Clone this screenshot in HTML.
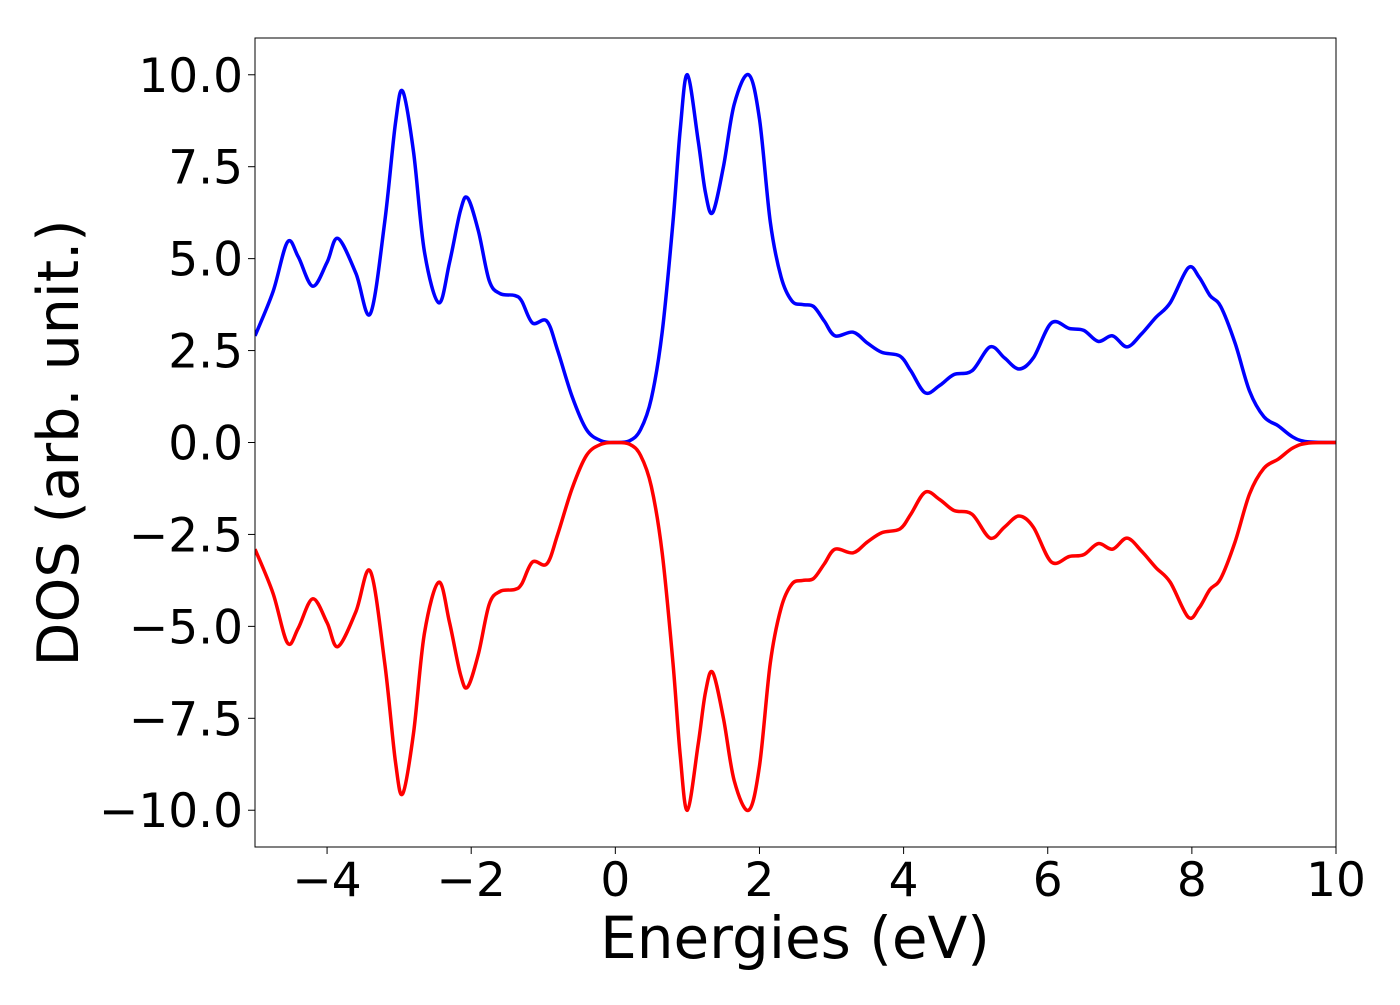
<!DOCTYPE html>
<html><head><meta charset="utf-8"><style>
html,body{margin:0;padding:0;background:#fff;}
svg text{font-family:"DejaVu Sans","Liberation Sans",sans-serif;fill:#000;}
</style></head><body>
<svg id="chart" width="1400" height="1000" viewBox="0 0 1400 1000" xmlns="http://www.w3.org/2000/svg">
<rect x="0" y="0" width="1400" height="1000" fill="#fff"/>
<g id="plot"></g>
</svg>
<script>
const energies = [-5,-4.75,-4.55,-4.4,-4.2,-4.0,-3.85,-3.6,-3.4,-3.2,-3.05,-2.95,-2.8,-2.65,-2.45,-2.3,-2.15,-2.05,-1.9,-1.75,-1.6,-1.4,-1.3,-1.15,-0.95,-0.8,-0.6,-0.4,-0.2,0,0.2,0.35,0.5,0.65,0.8,0.9,1.0,1.15,1.25,1.35,1.5,1.65,1.85,2.0,2.15,2.3,2.45,2.6,2.75,2.9,3.05,3.3,3.5,3.7,3.95,4.1,4.3,4.5,4.7,4.95,5.2,5.4,5.6,5.8,6.05,6.3,6.5,6.7,6.9,7.1,7.3,7.5,7.7,7.95,8.1,8.25,8.4,8.6,8.8,9.0,9.2,9.4,9.6,10];
const dosUp = [2.9,4.1,5.45,5.05,4.25,4.9,5.55,4.6,3.5,6.0,8.7,9.55,7.9,5.2,3.8,4.9,6.3,6.65,5.75,4.4,4.05,4.0,3.85,3.25,3.3,2.5,1.25,0.35,0.05,0,0.05,0.35,1.2,3.0,6.0,8.5,10.0,8.2,6.8,6.25,7.5,9.2,10.0,8.8,6.0,4.5,3.85,3.75,3.7,3.3,2.9,3.0,2.7,2.45,2.35,1.95,1.35,1.55,1.85,1.95,2.6,2.3,2.0,2.3,3.25,3.1,3.05,2.75,2.9,2.6,2.95,3.4,3.8,4.75,4.5,4.0,3.7,2.7,1.4,0.7,0.45,0.15,0.02,0];
const dosDown = [-2.9,-4.1,-5.45,-5.05,-4.25,-4.9,-5.55,-4.6,-3.5,-6.0,-8.7,-9.55,-7.9,-5.2,-3.8,-4.9,-6.3,-6.65,-5.75,-4.4,-4.05,-4.0,-3.85,-3.25,-3.3,-2.5,-1.25,-0.35,-0.05,0,-0.05,-0.35,-1.2,-3.0,-6.0,-8.5,-10.0,-8.2,-6.8,-6.25,-7.5,-9.2,-10.0,-8.8,-6.0,-4.5,-3.85,-3.75,-3.7,-3.3,-2.9,-3.0,-2.7,-2.45,-2.35,-1.95,-1.35,-1.55,-1.85,-1.95,-2.6,-2.3,-2.0,-2.3,-3.25,-3.1,-3.05,-2.75,-2.9,-2.6,-2.95,-3.4,-3.8,-4.75,-4.5,-4.0,-3.7,-2.7,-1.4,-0.7,-0.45,-0.15,-0.02,0];
const xTicks = [-4,-2,0,2,4,6,8,10];
const xTickLabels = ["\u22124","\u22122","0","2","4","6","8","10"];
const yTicks = [-10,-7.5,-5,-2.5,0,2.5,5,7.5,10];
const yTickLabels = ["\u221210.0","\u22127.5","\u22125.0","\u22122.5","0.0","2.5","5.0","7.5","10.0"];

const L=255,R=1336,T=38,B=847, xmin=-5,xmax=10,ymin=-11,ymax=11;
const sx=v=>L+(v-xmin)/(xmax-xmin)*(R-L);
const sy=v=>B-(v-ymin)/(ymax-ymin)*(B-T);
const NS="http://www.w3.org/2000/svg";
const g=document.getElementById('plot');
function mk(tag,attrs){const e=document.createElementNS(NS,tag);for(const k in attrs)e.setAttribute(k,attrs[k]);g.appendChild(e);return e;}

function smoothPath(xs,ys){
  const p=xs.map((x,i)=>[sx(x),sy(ys[i])]);
  let d=`M${p[0][0]},${p[0][1]}`;
  for(let i=0;i<p.length-1;i++){
    const p0=p[i-1]||p[i],p1=p[i],p2=p[i+1],p3=p[i+2]||p[i+1];
    const c1=[p1[0]+(p2[0]-p0[0])/6,p1[1]+(p2[1]-p0[1])/6];
    const c2=[p2[0]-(p3[0]-p1[0])/6,p2[1]-(p3[1]-p1[1])/6];
    d+=` C${c1[0]},${c1[1]} ${c2[0]},${c2[1]} ${p2[0]},${p2[1]}`;
  }
  return d;
}
const clip=mk('clipPath',{id:'clipArea'});
const cr=document.createElementNS(NS,'rect');
cr.setAttribute('x',L);cr.setAttribute('y',T);cr.setAttribute('width',R-L);cr.setAttribute('height',B-T);
clip.appendChild(cr);

const up=mk('path',{d:smoothPath(energies,dosUp),fill:'none',stroke:'#0000ff','stroke-width':3.5,'stroke-linejoin':'round','clip-path':'url(#clipArea)'});


const dn=mk('path',{d:smoothPath(energies,dosDown),fill:'none',stroke:'#ff0000','stroke-width':3.5,'stroke-linejoin':'round','clip-path':'url(#clipArea)'});



const frame=mk('rect',{x:L,y:T,width:R-L,height:B-T,fill:'none',stroke:'#000','stroke-width':1});



xTicks.forEach((v,i)=>{
  const t=mk('line',{x1:sx(v),x2:sx(v),y1:B,y2:B+7,stroke:'#000','stroke-width':1});
  
  
  const tx=mk('text',{x:sx(v),y:896,'text-anchor':'middle','font-size':47});
  tx.textContent=xTickLabels[i];
  
  
});
yTicks.forEach((v,i)=>{
  const t=mk('line',{x1:L-7,x2:L,y1:sy(v),y2:sy(v),stroke:'#000','stroke-width':1});
  
  
  const tx=mk('text',{x:243,y:sy(v)+17,'text-anchor':'end','font-size':47});
  tx.textContent=yTickLabels[i];
  
  
});
const xl=mk('text',{x:795,y:958,'text-anchor':'middle','font-size':58});
xl.textContent='Energies (eV)';


const yl=mk('text',{x:0,y:0,'text-anchor':'middle','font-size':57,transform:'translate(78,443) rotate(-90)'});
yl.textContent='DOS (arb. unit.)';


</script>
</body></html>
